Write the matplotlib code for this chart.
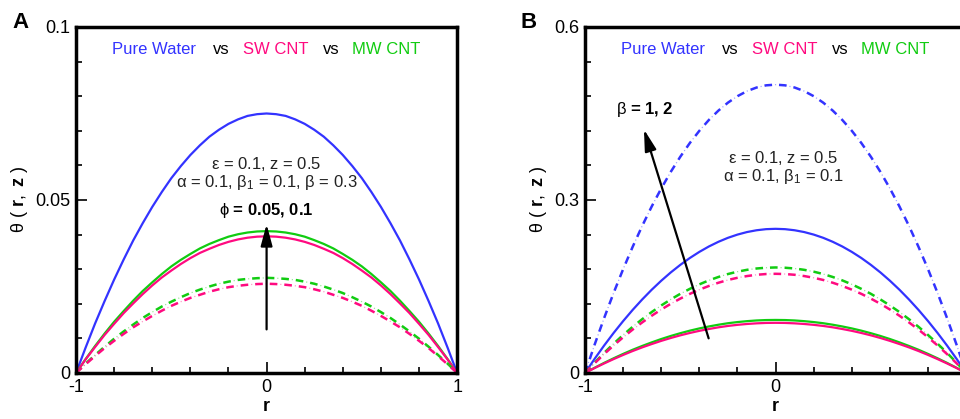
import numpy as np
import matplotlib
matplotlib.use("Agg")
import matplotlib.pyplot as plt
from matplotlib.ticker import MultipleLocator

plt.rcParams['font.family'] = ['Liberation Sans', 'DejaVu Sans']
plt.rcParams['mathtext.fontset'] = 'custom'
plt.rcParams['mathtext.rm'] = 'Liberation Sans'
plt.rcParams['mathtext.it'] = 'Liberation Sans'
plt.rcParams['mathtext.bf'] = 'Liberation Sans:bold'
plt.rcParams['axes.unicode_minus'] = False
plt.rcParams['lines.scale_dashes'] = False

# radial coordinate, step 0.05
r = [-1.0, -0.95, -0.9, -0.85, -0.8, -0.75, -0.7, -0.65, -0.6, -0.55, -0.5,
     -0.45, -0.4, -0.35, -0.3, -0.25, -0.2, -0.15, -0.1, -0.05, 0.0,
     0.05, 0.1, 0.15, 0.2, 0.25, 0.3, 0.35, 0.4, 0.45, 0.5,
     0.55, 0.6, 0.65, 0.7, 0.75, 0.8, 0.85, 0.9, 0.95, 1.0]

# panel A (phi = 0.05 dashed, phi = 0.1 solid)
a_water = [0, 0.0073, 0.0143, 0.0208, 0.0270, 0.0328, 0.0383, 0.0433, 0.0480, 0.0523, 0.0563,
           0.0598, 0.0630, 0.0658, 0.0683, 0.0703, 0.0720, 0.0733, 0.0743, 0.0748, 0.0750,
           0.0748, 0.0743, 0.0733, 0.0720, 0.0703, 0.0683, 0.0658, 0.0630, 0.0598, 0.0563,
           0.0523, 0.0480, 0.0433, 0.0383, 0.0328, 0.0270, 0.0208, 0.0143, 0.0073, 0]
a_sw_1 = [0, 0.0039, 0.0075, 0.0110, 0.0142, 0.0173, 0.0201, 0.0228, 0.0253, 0.0276, 0.0296,
          0.0315, 0.0332, 0.0347, 0.0359, 0.0370, 0.0379, 0.0386, 0.0391, 0.0394, 0.0395,
          0.0394, 0.0391, 0.0386, 0.0379, 0.0370, 0.0359, 0.0347, 0.0332, 0.0315, 0.0296,
          0.0276, 0.0253, 0.0228, 0.0201, 0.0173, 0.0142, 0.0110, 0.0075, 0.0039, 0]
a_mw_1 = [0, 0.0040, 0.0078, 0.0114, 0.0148, 0.0179, 0.0209, 0.0237, 0.0262, 0.0286, 0.0308,
          0.0327, 0.0344, 0.0360, 0.0373, 0.0384, 0.0394, 0.0401, 0.0406, 0.0409, 0.0410,
          0.0409, 0.0406, 0.0401, 0.0394, 0.0384, 0.0373, 0.0360, 0.0344, 0.0327, 0.0308,
          0.0286, 0.0262, 0.0237, 0.0209, 0.0179, 0.0148, 0.0114, 0.0078, 0.0040, 0]
a_sw_05 = [0, 0.0025, 0.0049, 0.0072, 0.0093, 0.0113, 0.0132, 0.0149, 0.0165, 0.0180, 0.0194,
           0.0206, 0.0217, 0.0226, 0.0235, 0.0242, 0.0248, 0.0252, 0.0255, 0.0257, 0.0258,
           0.0257, 0.0255, 0.0252, 0.0248, 0.0242, 0.0235, 0.0226, 0.0217, 0.0206, 0.0194,
           0.0180, 0.0165, 0.0149, 0.0132, 0.0113, 0.0093, 0.0072, 0.0049, 0.0025, 0]
a_mw_05 = [0, 0.0027, 0.0052, 0.0076, 0.0099, 0.0120, 0.0140, 0.0159, 0.0176, 0.0192, 0.0206,
           0.0219, 0.0231, 0.0241, 0.0250, 0.0258, 0.0264, 0.0269, 0.0272, 0.0274, 0.0275,
           0.0274, 0.0272, 0.0269, 0.0264, 0.0258, 0.0250, 0.0241, 0.0231, 0.0219, 0.0206,
           0.0192, 0.0176, 0.0159, 0.0140, 0.0120, 0.0099, 0.0076, 0.0052, 0.0027, 0]

# panel B (beta = 1 solid, beta = 2 dash-dot)
b_water_1 = [0, 0.0244, 0.0475, 0.0694, 0.0900, 0.1094, 0.1275, 0.1444, 0.1600, 0.1744, 0.1875,
             0.1994, 0.2100, 0.2194, 0.2275, 0.2344, 0.2400, 0.2444, 0.2475, 0.2494, 0.2500,
             0.2494, 0.2475, 0.2444, 0.2400, 0.2344, 0.2275, 0.2194, 0.2100, 0.1994, 0.1875,
             0.1744, 0.1600, 0.1444, 0.1275, 0.1094, 0.0900, 0.0694, 0.0475, 0.0244, 0]
b_water_2 = [0, 0.0488, 0.0950, 0.1388, 0.1800, 0.2188, 0.2550, 0.2888, 0.3200, 0.3488, 0.3750,
             0.3988, 0.4200, 0.4388, 0.4550, 0.4688, 0.4800, 0.4888, 0.4950, 0.4988, 0.5000,
             0.4988, 0.4950, 0.4888, 0.4800, 0.4688, 0.4550, 0.4388, 0.4200, 0.3988, 0.3750,
             0.3488, 0.3200, 0.2888, 0.2550, 0.2188, 0.1800, 0.1388, 0.0950, 0.0488, 0]
b_sw_1 = [0, 0.0085, 0.0165, 0.0241, 0.0313, 0.0381, 0.0444, 0.0502, 0.0557, 0.0607, 0.0653,
          0.0694, 0.0731, 0.0763, 0.0792, 0.0816, 0.0835, 0.0850, 0.0861, 0.0868, 0.0870,
          0.0868, 0.0861, 0.0850, 0.0835, 0.0816, 0.0792, 0.0763, 0.0731, 0.0694, 0.0653,
          0.0607, 0.0557, 0.0502, 0.0444, 0.0381, 0.0313, 0.0241, 0.0165, 0.0085, 0]
b_mw_1 = [0, 0.0090, 0.0175, 0.0255, 0.0331, 0.0403, 0.0469, 0.0531, 0.0589, 0.0642, 0.0690,
          0.0734, 0.0773, 0.0807, 0.0837, 0.0863, 0.0883, 0.0899, 0.0911, 0.0918, 0.0920,
          0.0918, 0.0911, 0.0899, 0.0883, 0.0863, 0.0837, 0.0807, 0.0773, 0.0734, 0.0690,
          0.0642, 0.0589, 0.0531, 0.0469, 0.0403, 0.0331, 0.0255, 0.0175, 0.0090, 0]
b_sw_2 = [0, 0.0168, 0.0327, 0.0477, 0.0619, 0.0753, 0.0877, 0.0993, 0.1101, 0.1200, 0.1290,
          0.1372, 0.1445, 0.1509, 0.1565, 0.1613, 0.1651, 0.1681, 0.1703, 0.1716, 0.1720,
          0.1716, 0.1703, 0.1681, 0.1651, 0.1613, 0.1565, 0.1509, 0.1445, 0.1372, 0.1290,
          0.1200, 0.1101, 0.0993, 0.0877, 0.0753, 0.0619, 0.0477, 0.0327, 0.0168, 0]
b_mw_2 = [0, 0.0178, 0.0348, 0.0508, 0.0659, 0.0801, 0.0933, 0.1057, 0.1171, 0.1276, 0.1373,
          0.1459, 0.1537, 0.1606, 0.1665, 0.1716, 0.1757, 0.1789, 0.1812, 0.1825, 0.1830,
          0.1825, 0.1812, 0.1789, 0.1757, 0.1716, 0.1665, 0.1606, 0.1537, 0.1459, 0.1373,
          0.1276, 0.1171, 0.1057, 0.0933, 0.0801, 0.0659, 0.0508, 0.0348, 0.0178, 0]

yticks_a = [0, 0.05, 0.1]
yticks_b = [0, 0.3, 0.6]

BLUE = '#3333ff'
PINK = '#ff0a80'
GREEN = '#11cc11'

# dash-dot where the dot is faint (as in the original tecplot output)
DASH_ON, DASH_OFF = 5.5, 5.0
PERIOD = DASH_ON + DASH_OFF


def dashdot(ax, x, y, color):
    ax.plot(x, y, color=color, lw=1.8, ls=(0, (DASH_ON, DASH_OFF)))
    s = DASH_ON + DASH_OFF / 2 - 0.4
    ax.plot(x, y, color=color, lw=0.9, alpha=0.45, ls=(PERIOD - s, (0.8, PERIOD - 0.8)))


fig = plt.figure(figsize=(9.6, 4.19), dpi=100)
axA = fig.add_axes([0.0792, 0.1098, 0.397, 0.8258])
axB = fig.add_axes([0.6094, 0.1098, 0.397, 0.8258])


def style_axes(ax, yticks, ymin):
    ax.set_xlim(-1, 1)
    ax.set_ylim(yticks[0], yticks[-1])
    ax.xaxis.set_minor_locator(MultipleLocator(0.2))
    ax.set_yticks(yticks, [f'{v:g}' for v in yticks])
    ax.yaxis.set_minor_locator(MultipleLocator(ymin))
    ax.tick_params(which='both', direction='in', width=1.2, labelsize=13, pad=4)
    ax.tick_params(which='major', length=8)
    ax.tick_params(which='minor', length=4)
    for s in ax.spines.values():
        s.set_linewidth(2.5)
    ax.set_xlabel('r', fontsize=13, fontweight='bold', labelpad=2)
    ax.set_ylabel(r'$\theta\ (\ \mathbf{r},\ \mathbf{z}\ )$', fontsize=13, labelpad=4)


def header(ax):
    y = 0.934
    ax.text(0.0945, y, 'Pure Water', color=BLUE, fontsize=12, transform=ax.transAxes, va='center')
    ax.text(0.36, y, 'vs', color='black', fontsize=12, transform=ax.transAxes, va='center')
    ax.text(0.438, y, 'SW CNT', color=PINK, fontsize=12, transform=ax.transAxes, va='center')
    ax.text(0.648, y, 'vs', color='black', fontsize=12, transform=ax.transAxes, va='center')
    ax.text(0.725, y, 'MW CNT', color=GREEN, fontsize=12, transform=ax.transAxes, va='center')


arrow_style = dict(arrowstyle='-|>,head_length=1.3,head_width=0.35', color='black', lw=1.6)

# ---- panel A ----
axA.plot(r, a_water, color=BLUE, lw=1.6)
axA.plot(r, a_mw_1, color=GREEN, lw=1.6)
axA.plot(r, a_sw_1, color=PINK, lw=1.6)
dashdot(axA, r, a_mw_05, GREEN)
dashdot(axA, r, a_sw_05, PINK)
style_axes(axA, yticks_a, 0.01)
axA.set_xticks([-1, 0, 1], ['-1', '0', '1'])
header(axA)
axA.text(0, 0.0605, r'$\epsilon$ = 0.1, z = 0.5', ha='center', va='center', fontsize=12, color='#222222')
axA.text(0, 0.0550, r'$\alpha$ = 0.1, $\beta_1$ = 0.1, $\beta$ = 0.3', ha='center', va='center',
         fontsize=12, color='#222222')
axA.text(0, 0.0470, r'$\phi$ = 0.05, 0.1', ha='center', va='center', fontsize=12, fontweight='bold')
axA.annotate('', xy=(0, 0.0438), xytext=(0, 0.0118), arrowprops=arrow_style)
axA.text(-0.168, 1.014, 'A', transform=axA.transAxes, fontsize=16, fontweight='bold', va='center')

# ---- panel B ----
dashdot(axB, r, b_water_2, BLUE)
axB.plot(r, b_water_1, color=BLUE, lw=1.6)
dashdot(axB, r, b_mw_2, GREEN)
dashdot(axB, r, b_sw_2, PINK)
axB.plot(r, b_mw_1, color=GREEN, lw=1.6)
axB.plot(r, b_sw_1, color=PINK, lw=1.6)
style_axes(axB, yticks_b, 0.06)
axB.set_xticks([-1, 0, 1], ['-1', '0', ''])
header(axB)
axB.text(0.04, 0.372, r'$\epsilon$ = 0.1, z = 0.5', ha='center', va='center', fontsize=12, color='#222222')
axB.text(0.04, 0.341, r'$\alpha$ = 0.1, $\beta_1$ = 0.1', ha='center', va='center', fontsize=12, color='#222222')
axB.text(-0.84, 0.457, r'$\beta$ = 1, 2', ha='left', va='center', fontsize=12, fontweight='bold')
axB.annotate('', xy=(-0.695, 0.427), xytext=(-0.347, 0.0555), arrowprops=arrow_style)
axB.text(-0.168, 1.014, 'B', transform=axB.transAxes, fontsize=16, fontweight='bold', va='center')

fig.savefig('out.png', dpi=100)
